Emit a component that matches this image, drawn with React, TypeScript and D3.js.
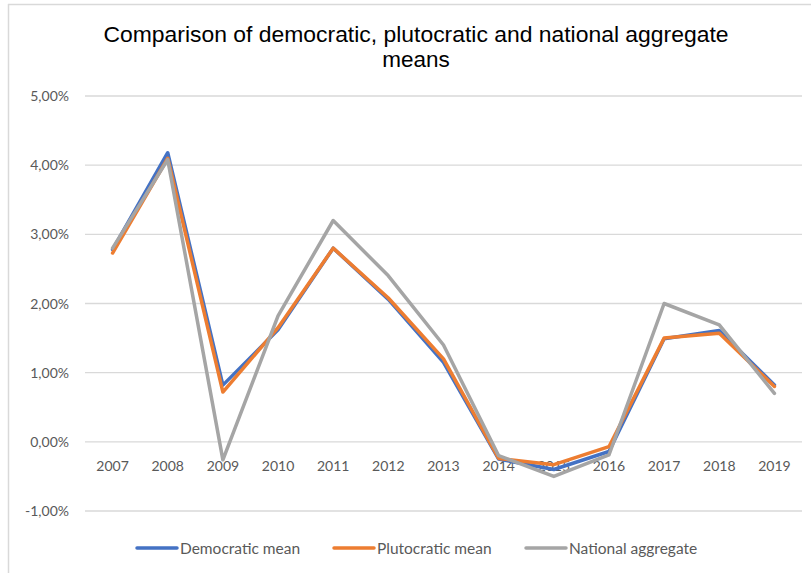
import React from "react";
import * as d3 from "d3";

const years = ["2007", "2008", "2009", "2010", "2011", "2012", "2013", "2014", "2015", "2016", "2017", "2018", "2019"];
const democraticMean = [2.78, 4.18, 0.82, 1.62, 2.8, 2.06, 1.15, -0.25, -0.4, -0.14, 1.49, 1.61, 0.82];
const plutocraticMean = [2.73, 4.1, 0.72, 1.65, 2.8, 2.08, 1.2, -0.24, -0.33, -0.07, 1.5, 1.57, 0.8];
const nationalAggregate = [2.8, 4.08, -0.26, 1.82, 3.2, 2.4, 1.4, -0.2, -0.5, -0.19, 2.0, 1.69, 0.7];
const yTicks = [-1, 0, 1, 2, 3, 4, 5];

const series = [
  { name: "Democratic mean", values: democraticMean, color: "#4472C4" },
  { name: "Plutocratic mean", values: plutocraticMean, color: "#ED7D31" },
  { name: "National aggregate", values: nationalAggregate, color: "#A5A5A5" },
];

const W = 811;
const H = 573;
const plot = { left: 85, right: 802, top: 96, bottom: 511 };

export default function App() {
  const x = d3.scaleBand<string>().domain(years).range([plot.left, plot.right]);
  const y = d3.scaleLinear().domain([-1, 5]).range([plot.bottom, plot.top]);
  const cx = (yr: string) => (x(yr) ?? 0) + x.bandwidth() / 2;
  const fmt = (v: number) => v.toFixed(2).replace(".", ",") + "%";
  const line = d3
    .line<number>()
    .x((_, i) => cx(years[i]))
    .y((v) => y(v));

  const legendItems = [
    { lineX: 137, textX: 180 },
    { lineX: 334, textX: 377 },
    { lineX: 526, textX: 569 },
  ];

  return (
    <svg
      width={W}
      height={H}
      style={{ position: "absolute", left: 0, top: 0, background: "#fff" }}
      fontFamily="Lato, 'Open Sans', sans-serif"
    >
      <rect x={0} y={0} width={W} height={H} fill="#fff" />
      {/* chart frame (top and left edges) */}
      <line x1={8} x2={W} y1={4.5} y2={4.5} stroke="#D9D9D9" strokeWidth={1.5} />
      <line x1={8.5} x2={8.5} y1={4} y2={H} stroke="#D9D9D9" strokeWidth={1.5} />

      <text
        x={416}
        y={42}
        textAnchor="middle"
        fontFamily="'Liberation Sans', Arial, sans-serif"
        fontSize={22.5}
        textLength={625}
        lengthAdjust="spacingAndGlyphs"
        fill="#000"
      >
        Comparison of democratic, plutocratic and national aggregate
      </text>
      <text
        x={416}
        y={67}
        textAnchor="middle"
        fontFamily="'Liberation Sans', Arial, sans-serif"
        fontSize={22.5}
        fill="#000"
      >
        means
      </text>

      {yTicks.map((t) => (
        <g key={t}>
          <line x1={plot.left} x2={plot.right} y1={y(t)} y2={y(t)} stroke="#D9D9D9" strokeWidth={1.3} />
          <text x={69} y={y(t) + 5} textAnchor="end" fontSize={14} fill="#595959">
            {fmt(t)}
          </text>
        </g>
      ))}

      {years.map((yr) => (
        <text key={yr} x={cx(yr)} y={y(0) + 29} textAnchor="middle" fontSize={14} fill="#595959">
          {yr}
        </text>
      ))}

      {series.map((s) => (
        <path
          key={s.name}
          d={line(s.values) ?? ""}
          fill="none"
          stroke={s.color}
          strokeWidth={3.5}
          strokeLinejoin="round"
          strokeLinecap="round"
        />
      ))}

      {series.map((s, i) => (
        <g key={s.name}>
          <line
            x1={legendItems[i].lineX}
            x2={legendItems[i].lineX + 40}
            y1={548}
            y2={548}
            stroke={s.color}
            strokeWidth={3.5}
            strokeLinecap="round"
          />
          <text x={legendItems[i].textX} y={553.5} fontSize={15.5} fill="#595959">
            {s.name}
          </text>
        </g>
      ))}
    </svg>
  );
}
